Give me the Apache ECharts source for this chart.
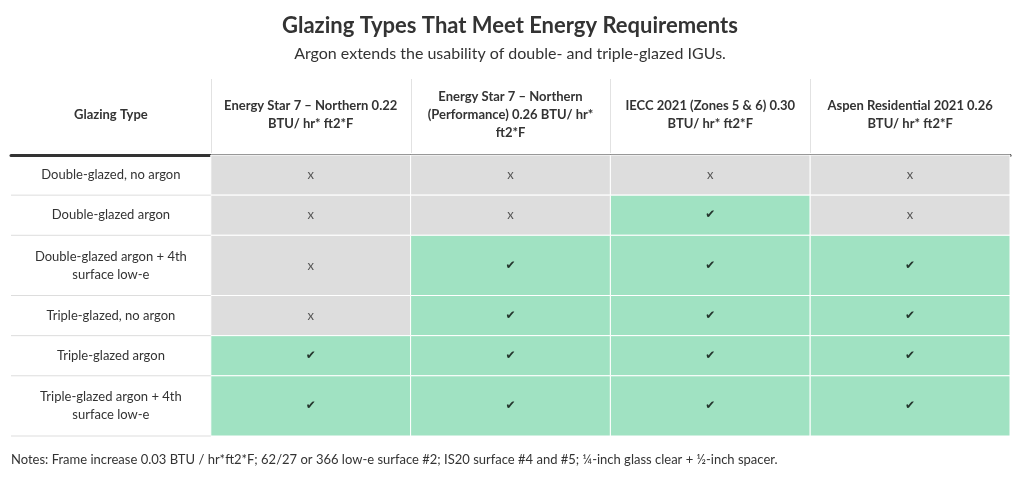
<!DOCTYPE html>
<html><head><meta charset="utf-8">
<script src="https://cdn.jsdelivr.net/npm/echarts@6/dist/echarts.min.js"></script>
<style>html,body{margin:0;padding:0;background:#fff}#c{width:1020px;height:478px}</style>
</head><body><div id="c"></div>
<script>
const titleText = 'Glazing Types That Meet Energy Requirements';
const subtitleText = 'Argon extends the usability of double- and triple-glazed IGUs.';
const notesText = 'Notes: Frame increase 0.03 BTU / hr*ft2*F; 62/27 or 366 low-e surface #2; IS20 surface #4 and #5; ¼-inch glass clear + ½-inch spacer.';
const columns = [
  'Glazing Type',
  'Energy Star 7 – Northern 0.22\nBTU/ hr* ft2*F',
  'Energy Star 7 – Northern\n(Performance) 0.26 BTU/ hr*\nft2*F',
  'IECC 2021 (Zones 5 & 6) 0.30\nBTU/ hr* ft2*F',
  'Aspen Residential 2021 0.26\nBTU/ hr* ft2*F'
];
const glazingTypes = [
  'Double-glazed, no argon',
  'Double-glazed argon',
  'Double-glazed argon + 4th\nsurface low-e',
  'Triple-glazed, no argon',
  'Triple-glazed argon',
  'Triple-glazed argon + 4th\nsurface low-e'
];
// 1 = meets requirement (✔), 0 = does not (x)
const energyStar022 = [0, 0, 0, 0, 1, 1];
const energyStarPerf026 = [0, 0, 1, 1, 1, 1];
const iecc2021 = [0, 1, 1, 1, 1, 1];
const aspen2021 = [0, 0, 1, 1, 1, 1];
const standardColumns = [energyStar022, energyStarPerf026, iecc2021, aspen2021];

const FONT = 'Lato';
const GREEN = '#a0e2c2';
const GRAY = '#dddddd';
const HEADER_H = 76;

// row extents derived from the number of text lines in each label
const rowStart = [], rowEnd = [];
let acc = 0;
glazingTypes.forEach(function (lbl) {
  const lines = lbl.split('\n').length;
  rowStart.push(acc);
  acc += lines === 1 ? 2 : 3;
  rowEnd.push(acc);
});
const total = acc;

const cellData = [];
standardColumns.forEach(function (arr, ci) {
  arr.forEach(function (v, ri) { cellData.push([ci + 1, ri, v]); });
});
const labelData = glazingTypes.map(function (l, ri) { return [0, ri, 0]; });
const separatorData = standardColumns.map(function (a, ci) { return [ci + 1, 0, 0]; });

function cellRect(api, col, row) {
  const p0 = api.coord([col, rowStart[row]]);
  const p1 = api.coord([col, rowEnd[row]]);
  const w = api.size([1, 0])[0];
  return { x: p0[0] - w / 2, y: p0[1], w: w, h: p1[1] - p0[1], cx: p0[0] };
}

function renderCell(params, api) {
  const col = api.value(0), row = api.value(1), ok = api.value(2);
  const r = cellRect(api, col, row);
  return {
    type: 'group',
    children: [
      { type: 'rect', shape: { x: r.x, y: r.y, width: r.w, height: r.h },
        style: { fill: ok ? GREEN : GRAY, stroke: '#ffffff', lineWidth: 1 } },
      { type: 'text', style: { text: ok ? '✔' : 'x', x: r.cx, y: r.y + r.h / 2,
        align: 'center', verticalAlign: 'middle', fill: ok ? '#24352d' : '#555555',
        fontSize: ok ? 12 : 13, fontFamily: ok ? 'DejaVu Sans' : FONT } }
    ]
  };
}

function renderLabel(params, api) {
  const row = api.value(1);
  const r = cellRect(api, 0, row);
  return {
    type: 'group',
    children: [
      { type: 'line', shape: { x1: r.x, y1: r.y + r.h, x2: r.x + r.w, y2: r.y + r.h },
        style: { stroke: '#dddddd', lineWidth: 1 } },
      { type: 'text', style: { text: glazingTypes[row], x: r.cx, y: r.y + r.h / 2,
        align: 'center', verticalAlign: 'middle', fill: '#333333',
        fontSize: 13, lineHeight: 18, fontFamily: FONT } }
    ]
  };
}

function renderSeparator(params, api) {
  const col = api.value(0);
  const r = cellRect(api, col, 0);
  const x = Math.round(r.x) + 0.5;
  return { type: 'line', shape: { x1: x, y1: r.y - HEADER_H, x2: x, y2: r.y - 2 },
    style: { stroke: '#e2e2e2', lineWidth: 1 } };
}

const chart = echarts.init(document.getElementById('c'));
chart.setOption({
  animation: false,
  backgroundColor: '#ffffff',
  title: [
    { text: titleText, subtext: subtitleText, left: 'center', top: 10, itemGap: 9,
      textStyle: { fontFamily: FONT, fontSize: 22, fontWeight: 'bold', color: '#333333' },
      subtextStyle: { fontFamily: FONT, fontSize: 16, color: '#333333' } },
    { text: notesText, left: 6, top: 448,
      textStyle: { fontFamily: FONT, fontSize: 13, fontWeight: 'normal', color: '#333333' } }
  ],
  grid: { left: 11, right: 10, top: 155, bottom: 42 },
  xAxis: {
    type: 'category', data: columns, position: 'top',
    axisLine: { show: true, lineStyle: { color: '#333333', width: 3 } },
    axisTick: { show: false },
    axisLabel: { interval: 0, margin: 40, verticalAlign: 'middle', fontFamily: FONT, fontSize: 13,
      fontWeight: 'bold', color: '#333333', lineHeight: 18 },
    splitLine: { show: false }
  },
  yAxis: { type: 'value', inverse: true, min: 0, max: total, show: false, splitLine: { show: false } },
  series: [
    { type: 'custom', renderItem: renderCell, data: cellData, encode: { x: 0, y: 1 }, z: 1 },
    { type: 'custom', renderItem: renderLabel, data: labelData, encode: { x: 0, y: 1 }, z: 2 },
    { type: 'custom', renderItem: renderSeparator, data: separatorData, encode: { x: 0, y: 1 }, z: 2, clip: false }
  ]
});
</script></body></html>
